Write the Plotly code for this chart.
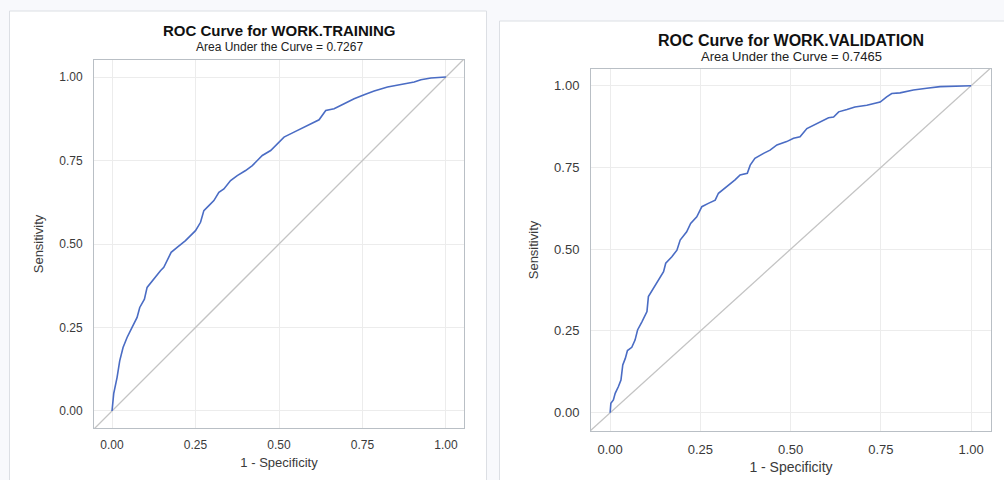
import plotly.graph_objects as go

# ---- data ----
train_fpr = [0, 0.005, 0.015, 0.023, 0.033, 0.045, 0.06, 0.075, 0.083, 0.097, 0.105, 0.12, 0.145, 0.155,
             0.177, 0.195, 0.22, 0.235, 0.25, 0.265, 0.275, 0.29, 0.305, 0.32, 0.335, 0.355, 0.375, 0.40,
             0.42, 0.435, 0.45, 0.475, 0.495, 0.515, 0.545, 0.565, 0.595, 0.62, 0.64, 0.665, 0.695, 0.725,
             0.755, 0.785, 0.825, 0.865, 0.905, 0.925, 0.955, 1.0]
train_tpr = [0, 0.052, 0.10, 0.15, 0.19, 0.22, 0.25, 0.28, 0.31, 0.335, 0.37, 0.39, 0.42, 0.43,
             0.475, 0.49, 0.51, 0.525, 0.54, 0.565, 0.60, 0.615, 0.63, 0.655, 0.665, 0.69, 0.705, 0.72,
             0.735, 0.75, 0.765, 0.78, 0.80, 0.82, 0.835, 0.845, 0.86, 0.872, 0.90, 0.905, 0.92, 0.935,
             0.947, 0.958, 0.97, 0.978, 0.985, 0.992, 0.997, 1.0]

valid_fpr = [0, 0.002, 0.009, 0.014, 0.023, 0.03, 0.035, 0.042, 0.048, 0.06, 0.069, 0.076, 0.088, 0.102,
             0.106, 0.12, 0.134, 0.148, 0.154, 0.171, 0.185, 0.194, 0.212, 0.223, 0.24, 0.254, 0.272, 0.291,
             0.30, 0.323, 0.346, 0.36, 0.38, 0.388, 0.401, 0.425, 0.443, 0.462, 0.489, 0.508, 0.526, 0.545,
             0.563, 0.586, 0.605, 0.619, 0.633, 0.656, 0.678, 0.711, 0.729, 0.748, 0.766, 0.78, 0.803, 0.84,
             0.877, 0.914, 1.0]
valid_tpr = [0, 0.029, 0.039, 0.059, 0.08, 0.10, 0.146, 0.166, 0.19, 0.20, 0.222, 0.253, 0.278, 0.309,
             0.355, 0.38, 0.406, 0.431, 0.457, 0.477, 0.497, 0.528, 0.553, 0.579, 0.599, 0.63, 0.64, 0.65,
             0.671, 0.691, 0.712, 0.727, 0.732, 0.757, 0.778, 0.793, 0.803, 0.819, 0.829, 0.839, 0.844, 0.869,
             0.879, 0.89, 0.902, 0.904, 0.92, 0.927, 0.935, 0.94, 0.945, 0.95, 0.966, 0.976, 0.978, 0.987,
             0.992, 0.997, 1.0]

diag = [-0.2, 1.2]
tick_vals = [0, 0.25, 0.5, 0.75, 1.0]
tick_text = ["0.00", "0.25", "0.50", "0.75", "1.00"]
titles = ["ROC Curve for WORK.TRAINING", "ROC Curve for WORK.VALIDATION"]
subtitles = ["Area Under the Curve = 0.7267", "Area Under the Curve = 0.7465"]

W, H = 1004, 480
FONT = "Liberation Sans, Arial, sans-serif"
CURVE = "#4a6cc4"
DIAG = "#c4c4c4"
GRID = "#ececec"
FRAME = "#b9bfc5"
TXT = "#3a3a3a"

fig = go.Figure()
fig.add_trace(go.Scatter(x=diag, y=diag, mode="lines", line=dict(color=DIAG, width=1.3),
                         xaxis="x", yaxis="y", hoverinfo="skip"))
fig.add_trace(go.Scatter(x=train_fpr, y=train_tpr, mode="lines", line=dict(color=CURVE, width=1.6),
                         xaxis="x", yaxis="y"))
fig.add_trace(go.Scatter(x=diag, y=diag, mode="lines", line=dict(color=DIAG, width=1.3),
                         xaxis="x2", yaxis="y2", hoverinfo="skip"))
fig.add_trace(go.Scatter(x=valid_fpr, y=valid_tpr, mode="lines", line=dict(color=CURVE, width=1.6),
                         xaxis="x2", yaxis="y2"))


def px_x(p):
    return p / W


def px_y(p):
    return 1 - p / H


def axis_common(fs, standoff):
    return dict(tickvals=tick_vals, ticktext=tick_text, showgrid=True, gridcolor=GRID, gridwidth=1,
                zeroline=False, showline=True, linecolor=FRAME, linewidth=1, mirror=True,
                ticks="", tickfont=dict(family=FONT, size=fs, color=TXT),
                ticklabelstandoff=standoff)


# panel geometry (pixels)
L = dict(x0=94, x1=464, y0=60, y1=428)
R = dict(x0=591, x1=991, y0=69, y1=431)

xa = axis_common(12, 6)
xa.update(domain=[px_x(L["x0"]), px_x(L["x1"])], range=[-0.054, 1.054], anchor="y",
          title=dict(text="1 - Specificity", font=dict(family=FONT, size=13, color=TXT), standoff=6))
ya = axis_common(12, 8)
ya.update(domain=[px_y(L["y1"]), px_y(L["y0"])], range=[-0.051, 1.051], anchor="x",
          title=dict(text="Sensitivity", font=dict(family=FONT, size=13, color=TXT), standoff=12))
xa2 = axis_common(13, 6)
xa2.update(domain=[px_x(R["x0"]), px_x(R["x1"])], range=[-0.053, 1.055], anchor="y2",
           title=dict(text="1 - Specificity", font=dict(family=FONT, size=14, color=TXT), standoff=6))
ya2 = axis_common(13, 8)
ya2.update(domain=[px_y(R["y1"]), px_y(R["y0"])], range=[-0.056, 1.051], anchor="x2",
           title=dict(text="Sensitivity", font=dict(family=FONT, size=13, color=TXT), standoff=12))

shapes = [
    dict(type="rect", xref="paper", yref="paper", x0=px_x(9.5), x1=px_x(486.5), y0=px_y(490), y1=px_y(11),
         line=dict(color="#dcdfe4", width=1), fillcolor="white", layer="below"),
    dict(type="rect", xref="paper", yref="paper", x0=px_x(499.5), x1=px_x(1010), y0=px_y(490), y1=px_y(21),
         line=dict(color="#dcdfe4", width=1), fillcolor="white", layer="below"),
]

annotations = [
    dict(text="<b>" + titles[0] + "</b>", x=px_x(279), y=px_y(31), xref="paper", yref="paper",
         showarrow=False, font=dict(family=FONT, size=15, color="#111"), xanchor="center", yanchor="middle"),
    dict(text=subtitles[0], x=px_x(279), y=px_y(47), xref="paper", yref="paper",
         showarrow=False, font=dict(family=FONT, size=12, color="#222"), xanchor="center", yanchor="middle"),
    dict(text="<b>" + titles[1] + "</b>", x=px_x(791), y=px_y(40), xref="paper", yref="paper",
         showarrow=False, font=dict(family=FONT, size=16, color="#111"), xanchor="center", yanchor="middle"),
    dict(text=subtitles[1], x=px_x(791), y=px_y(56), xref="paper", yref="paper",
         showarrow=False, font=dict(family=FONT, size=13, color="#222"), xanchor="center", yanchor="middle"),
]

fig.update_layout(
    width=W, height=H, margin=dict(l=0, r=0, t=0, b=0),
    paper_bgcolor="#f8f9fc", plot_bgcolor="white", showlegend=False,
    xaxis=xa, yaxis=ya, xaxis2=xa2, yaxis2=ya2,
    shapes=shapes, annotations=annotations,
    font=dict(family=FONT),
)

fig.write_html("out.html", config={"displayModeBar": False},
               post_script="document.body.style.margin='0';document.body.style.overflow='hidden';")
